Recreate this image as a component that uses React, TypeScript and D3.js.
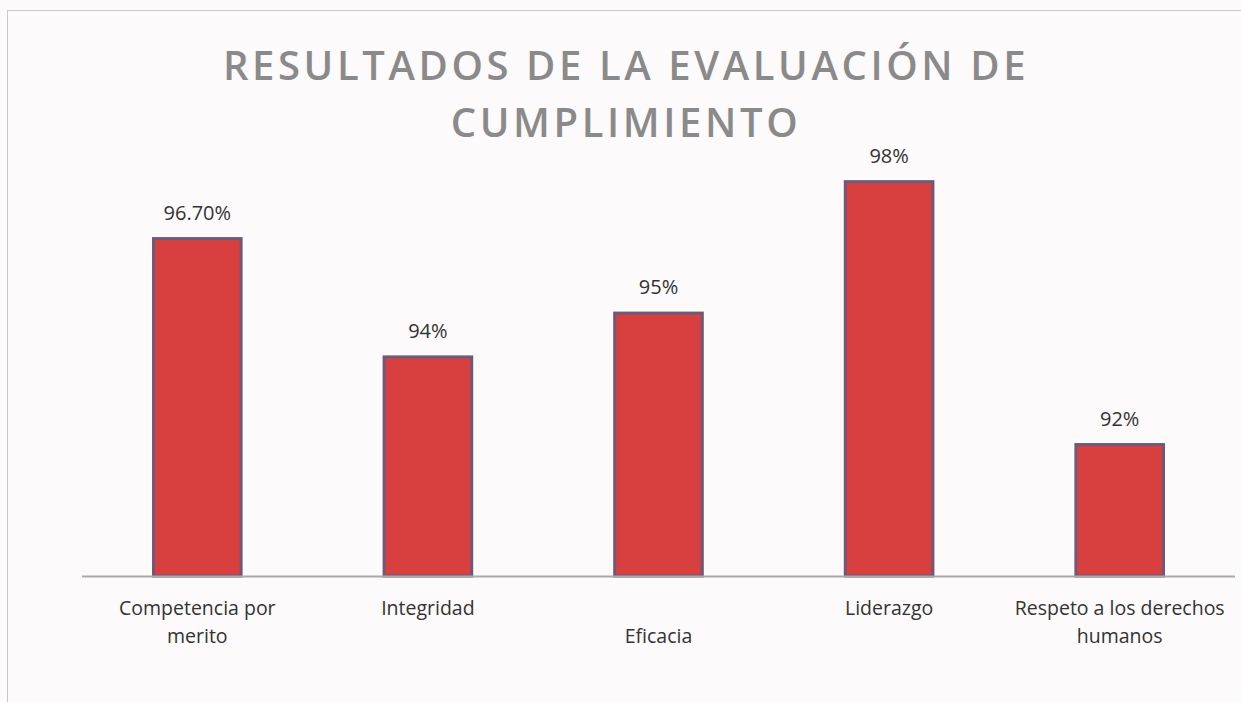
import React from 'react';
import * as d3 from 'd3';

const categories = [
  ['Competencia por', 'merito'],
  ['Integridad'],
  ['', 'Eficacia'],
  ['Liderazgo'],
  ['Respeto a los derechos', 'humanos'],
];
const values = [96.7, 94, 95, 98, 92];
const valueLabels = ['96.70%', '94%', '95%', '98%', '92%'];
const titleLines = ['RESULTADOS DE LA EVALUACIÓN DE', 'CUMPLIMIENTO'];

const width = 1241;
const height = 702;
const font = "'Open Sans', 'Noto Sans', sans-serif";

export default function App() {
  const x = d3.scaleBand<number>()
    .domain(d3.range(categories.length))
    .range([82, 1235])
    .paddingInner(0.62)
    .paddingOuter(0.31);
  const y = d3.scaleLinear().domain([89, 100]).range([576, 94]);

  return (
    <svg width={width} height={height} style={{ position: 'absolute', left: 0, top: 0 }}>
      <rect x={0} y={0} width={width} height={height} fill="#fcfafb" />
      <rect x={7.5} y={10.5} width={1240} height={700} fill="none" stroke="#c8c8c8" strokeWidth={1} />

      {titleLines.map((t, i) => (
        <text key={i} x={626} y={80 + i * 57} textAnchor="middle" fontFamily={font}
          fontSize={40} fontWeight={600} letterSpacing={3.6} fill="#8a8a8a">{t}</text>
      ))}

      {values.map((v, i) => (
        <g key={i}>
          <rect x={x(i)!} y={y(v)} width={x.bandwidth()} height={y(89) - y(v)}
            fill="#d8403f" stroke="#6e5a78" strokeWidth={3} />
          <text x={x(i)! + x.bandwidth() / 2} y={y(v) - 19} textAnchor="middle"
            fontFamily={font} fontSize={20} fill="#333">{valueLabels[i]}</text>
        </g>
      ))}

      <line x1={82} x2={1235} y1={576.5} y2={576.5} stroke="#a9a9a9" strokeWidth={2} />

      {categories.map((lines, i) => (
        <text key={i} textAnchor="middle" fontFamily={font} fontSize={19.5} fill="#333">
          {lines.map((l, j) => (
            <tspan key={j} x={x(i)! + x.bandwidth() / 2} y={615 + j * 28}>{l}</tspan>
          ))}
        </text>
      ))}
    </svg>
  );
}
